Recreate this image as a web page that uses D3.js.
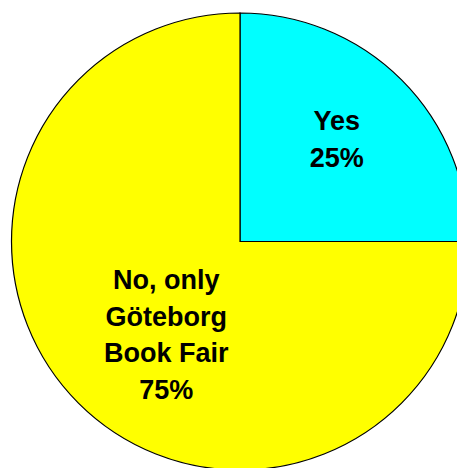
<!DOCTYPE html>
<html><head><meta charset="utf-8">
<script src="https://cdn.jsdelivr.net/npm/d3@7"></script>
<style>html,body{margin:0;padding:0;background:#fff;overflow:hidden}</style>
</head><body>
<script>
const categories = ["Yes", "No, only Göteborg Book Fair"];
const values = [25, 75];
const labelLines = [["Yes", "25%"], ["No, only", "Göteborg", "Book Fair", "75%"]];
const colors = ["#00FFFF", "#FFFF00"];

const W = 457, H = 468;
const cx = 240, cy = 241.5, r = 228.5;
// visual nudges of label blocks (layout, not data)
const nudges = [[3, -9], [20, -1]];
const lineH = 36.5;

const svg = d3.select("body").append("svg").attr("width", W).attr("height", H);
const g = svg.append("g").attr("transform", `translate(${cx},${cy})`);

const pie = d3.pie().sort(null).value(d => d)(values);
const arc = d3.arc().innerRadius(0).outerRadius(r);
const labelArc = d3.arc().innerRadius(r * 0.58).outerRadius(r * 0.58);

g.selectAll("path").data(pie).join("path")
  .attr("d", arc)
  .attr("fill", (d, i) => colors[i])
  .attr("stroke", "#000")
  .attr("stroke-width", 1.2);

pie.forEach((d, i) => {
  const [x, y] = labelArc.centroid(d);
  const lines = labelLines[i];
  const n = lines.length;
  const capH = 27 * 0.716;
  // first baseline so that block (cap top to last baseline) is centered
  const blockH = capH + (n - 1) * lineH;
  const y0 = y + nudges[i][1] - blockH / 2 + capH;
  const t = g.append("text")
    .attr("text-anchor", "middle")
    .attr("font-family", "'Liberation Sans', Arial, sans-serif")
    .attr("font-weight", "bold")
    .attr("font-size", 27)
    .attr("fill", "#000");
  lines.forEach((ln, k) => {
    t.append("tspan").attr("x", x + nudges[i][0]).attr("y", y0 + k * lineH).text(ln);
  });
});
</script>
</body></html>
